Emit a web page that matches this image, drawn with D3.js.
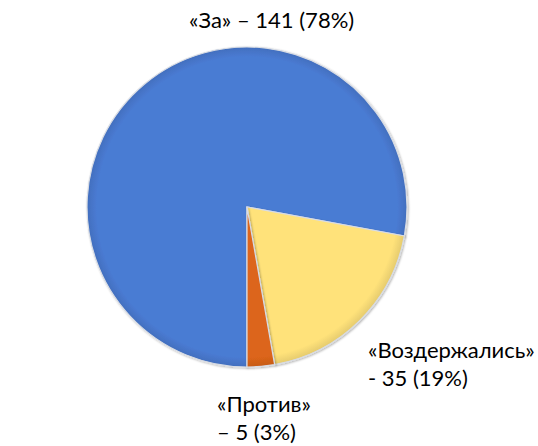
<!DOCTYPE html>
<html><head><meta charset="utf-8">
<script src="https://cdn.jsdelivr.net/npm/d3@7"></script>
<style>body{margin:0;background:#fff}svg{display:block}</style>
</head><body>
<svg id="c" width="538" height="446"></svg>
<script>
const categories = ["«За»", "«Воздержались»", "«Против»"];
const values = [141, 35, 5];
const labelLines = [["«За» – 141 (78%)"], ["«Воздержались»", "- 35 (19%)"], ["«Против»", "– 5 (3%)"]];
const colors = ["#4a7bd3", "#ffe27a", "#dc651a"];

const svg = d3.select("#c");
const cx = 247, cy = 207, r = 160;
const defs = svg.append("defs");
colors.forEach((c, i) => {
  const g = defs.append("radialGradient").attr("id", "g" + i)
    .attr("gradientUnits", "userSpaceOnUse").attr("cx", 0).attr("cy", 0).attr("r", r);
  g.append("stop").attr("offset", "0%").attr("stop-color", c);
  g.append("stop").attr("offset", "94%").attr("stop-color", c);
  g.append("stop").attr("offset", "100%").attr("stop-color", d3.color(c).darker(0.3));
});
const f = defs.append("filter").attr("id", "sh").attr("x", "-10%").attr("y", "-10%").attr("width", "120%").attr("height", "120%");
f.append("feDropShadow").attr("dx", 1).attr("dy", 1).attr("stdDeviation", 1.2).attr("flood-color", "#000").attr("flood-opacity", 0.3);

const pie = d3.pie().sort(null).startAngle(Math.PI).endAngle(3 * Math.PI);
const arcs = pie(values);
const arc = d3.arc().innerRadius(0).outerRadius(r);
const g = svg.append("g").attr("transform", `translate(${cx},${cy})`);
g.selectAll("path").data(arcs).join("path")
  .attr("d", arc)
  .attr("fill", (d, i) => `url(#g${i})`)
  .attr("stroke", "#d8dce4").attr("stroke-width", 1.2)
  .attr("filter", "url(#sh)");

const labelPos = [
  {x: 189, y: 28},
  {x: 368, y: 358},
  {x: 217, y: 412}
];
categories.forEach((c, i) => {
  const t = svg.append("text").attr("x", labelPos[i].x).attr("y", labelPos[i].y)
    .attr("font-family", "Lato, 'Open Sans', sans-serif").attr("font-size", 22).attr("fill", "#000");
  labelLines[i].forEach((l, j) => {
    t.append("tspan").attr("x", labelPos[i].x).attr("dy", j ? 28 : 0).text(l);
  });
});
</script>
</body></html>
